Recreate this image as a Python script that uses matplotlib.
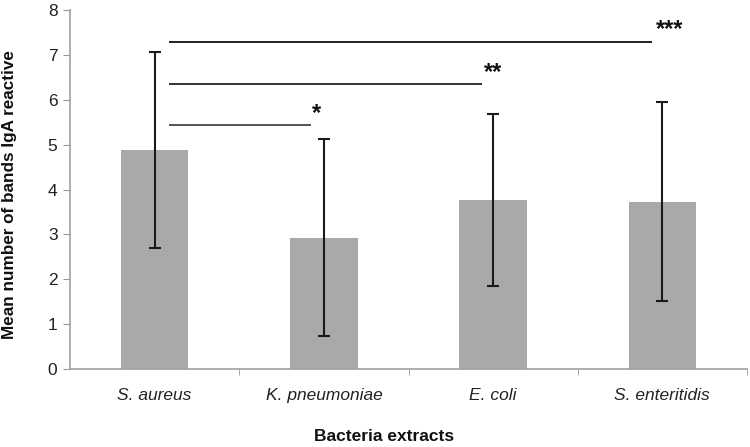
import matplotlib
matplotlib.use("Agg")
import matplotlib.pyplot as plt

categories = ["S. aureus", "K. pneumoniae", "E. coli", "S. enteritidis"]
means = [4.88, 2.93, 3.76, 3.73]
sds = [2.19, 2.20, 1.92, 2.22]
yticks = [0, 1, 2, 3, 4, 5, 6, 7, 8]

# significance brackets
sig_x0 = [0.085, 0.085, 0.085]
sig_x1 = [0.924, 1.934, 2.939]
sig_y = [5.43, 6.36, 7.28]
sig_labels = ["*", "**", "***"]
sig_label_x = [0.958, 2.0, 3.04]
sig_label_y = [5.69, 6.61, 7.56]
sig_colors = ["#555555", "#333333", "#222222"]

fam = ["Liberation Sans", "DejaVu Sans"]
plt.rcParams['font.family'] = fam

fig = plt.figure(figsize=(7.5, 4.47), dpi=100)
ax = fig.add_axes([70/750, 1 - 369/447, 677/750, 359/447])

x = list(range(len(categories)))
ax.bar(x, means, width=0.4, color="#a9a9a9", zorder=2)
ax.errorbar(x, means, yerr=sds, fmt="none", ecolor="#1a1a1a", elinewidth=1.5,
            capsize=4.5, capthick=1.5, zorder=3)

for x0, x1, y, lab, lx, ly, c in zip(sig_x0, sig_x1, sig_y, sig_labels,
                                       sig_label_x, sig_label_y, sig_colors):
    ax.plot([x0, x1], [y, y], color=c, lw=1.4, solid_capstyle="butt", zorder=3)
    ax.text(lx, ly, lab, ha="center", va="center", fontsize=17,
            fontweight="bold", color="#111111")

ax.set_xlim(-0.5, len(categories) - 0.5)
ax.set_ylim(0, 8)
ax.set_yticks(yticks)
ax.set_yticklabels([str(t) for t in yticks], fontsize=12.5, color="#222222")
ax.set_xticks(x)
ax.set_xticklabels(categories, fontsize=12.5, style="italic", color="#222222")
ax.tick_params(axis="x", which="major", length=0, pad=14)
ax.set_xticks([0.5, 1.5, 2.5, 3.5], minor=True)
ax.tick_params(axis="x", which="minor", length=4, color="#999999", direction="out")
ax.tick_params(axis="y", length=5, color="#999999", direction="out", pad=4)

for s in ["top", "right"]:
    ax.spines[s].set_visible(False)
for s in ["left", "bottom"]:
    ax.spines[s].set_color("#a0a0a0")
    ax.spines[s].set_linewidth(1.2)

ax.set_ylabel("Mean number of bands IgA reactive", fontsize=12.3,
              fontweight="bold", color="#111111")
ax.yaxis.set_label_coords(-0.079, 0.486)
ax.set_xlabel("Bacteria extracts", fontsize=12.5, fontweight="bold", color="#111111")
ax.xaxis.set_label_coords(0.464, -0.167)

fig.savefig("out.png", dpi=100)
